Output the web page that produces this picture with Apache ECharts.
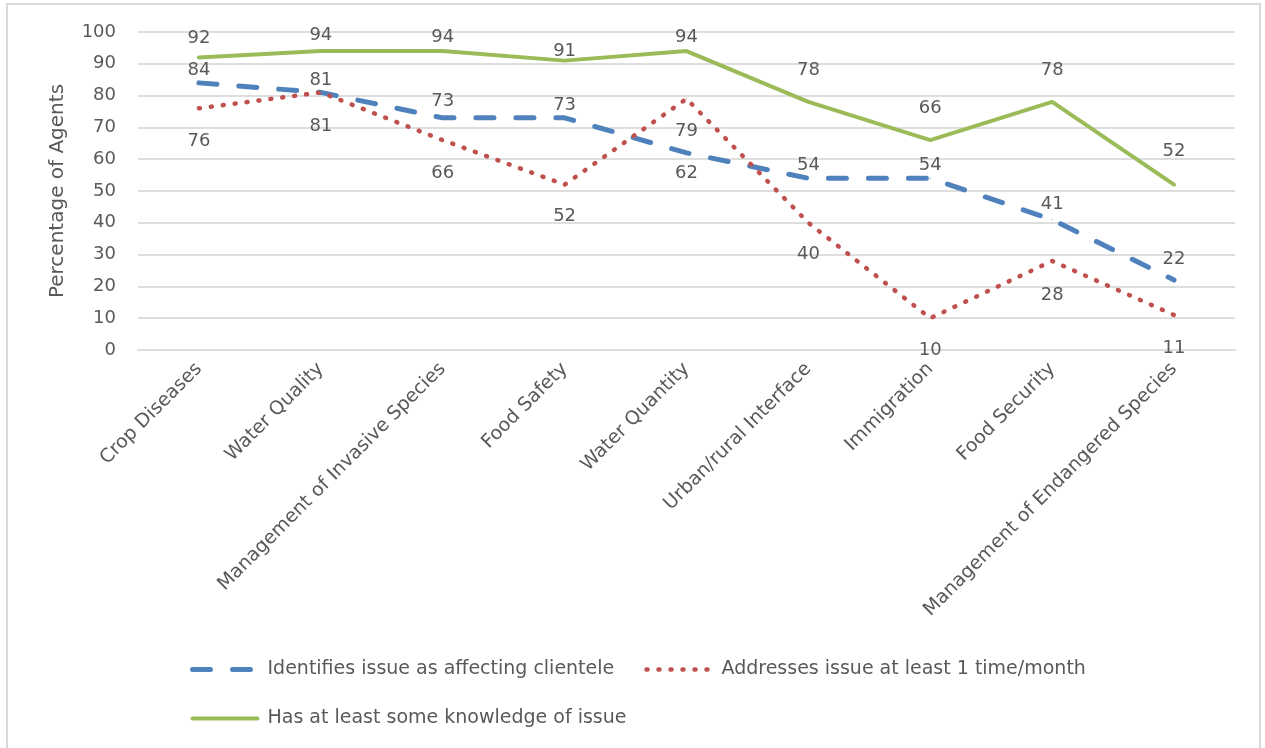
<!DOCTYPE html>
<html>
<head>
<meta charset="utf-8">
<title>Agent issue awareness</title>
<script src="https://cdn.jsdelivr.net/npm/echarts@6/dist/echarts.min.js"></script>
<style>
  html, body { margin: 0; padding: 0; background: #ffffff; }
  #chart { width: 1265px; height: 748px; }
</style>
</head>
<body>
<div id="chart"></div>
<script>
// Issues surveyed, in display order
const categories = [
  'Crop Diseases', 'Water Quality', 'Management of Invasive Species', 'Food Safety',
  'Water Quantity', 'Urban/rural Interface', 'Immigration', 'Food Security',
  'Management of Endangered Species'
];

// Percentage of agents for each measure
const identifiesIssue = [84, 81, 73, 73, 62, 54, 54, 41, 22];
const addressesMonthly = [76, 81, 66, 52, 79, 40, 10, 28, 11];
const hasKnowledge = [92, 94, 94, 91, 94, 78, 66, 78, 52];

// Y axis ticks
const yMin = 0, yMax = 100, yStep = 10;

// Vertical shift (px) of each value label from its point; negative is upward
const identifiesLabelShift = [-13, -12, -17, -13, 20, -13, -13, -15, -21];
const addressesLabelShift = [33, 34, 33, 32, 33, 32, 32, 34, 33];
const knowledgeLabelShift = [-19, -16, -14, -9, -14, -32, -32, -32, -33];

const TEXT = '#595959';
const FONT = 'DejaVu Sans';

const BLUE = { color: '#4f81bd', width: 5, type: [18, 22] };
const RED = { color: '#c0504d', width: 4.5, type: [1, 11] };
const GREEN = { color: '#9bbb59', width: 4, type: 'solid' };

const NAMES = [
  'Identifies issue as affecting clientele',
  'Addresses issue at least 1 time/month',
  'Has at least some knowledge of issue'
];

function withLabels(values, shifts) {
  return values.map((v, i) => ({ value: v, label: { offset: [0, shifts[i]] } }));
}

function lineSeries(name, values, shifts, style) {
  return {
    name: name,
    type: 'line',
    data: withLabels(values, shifts),
    symbol: 'circle',
    symbolSize: 1,
    itemStyle: { color: style.color },
    lineStyle: { color: style.color, width: style.width, type: style.type, cap: 'round', join: 'round' },
    label: {
      show: true,
      position: 'inside',
      color: TEXT,
      fontFamily: FONT,
      fontSize: 18
    },
    emphasis: { disabled: true },
    animation: false
  };
}

function legendItem(name, style) {
  return {
    name: name,
    lineStyle: { color: style.color, width: style.width, type: style.type, cap: 'round' }
  };
}

const chart = echarts.init(document.getElementById('chart'), null, { renderer: 'canvas' });

chart.setOption({
  backgroundColor: '#ffffff',
  textStyle: { fontFamily: FONT, color: TEXT },
  graphic: [{
    type: 'rect',
    shape: { x: 7, y: 4, width: 1253, height: 760 },
    style: { fill: 'none', stroke: '#d9d9d9', lineWidth: 2 },
    silent: true,
    z: -10
  }],
  grid: { left: 138, right: 30, top: 32, bottom: 398, containLabel: false },
  legend: {
    left: 185,
    top: 655,
    width: 960,
    itemWidth: 65,
    itemHeight: 14,
    itemGap: 30,
    textStyle: { color: TEXT, fontFamily: FONT, fontSize: 19, padding: [0, 0, 0, 5] },
    itemStyle: { color: 'transparent', borderWidth: 0 },
    selectedMode: false,
    data: [legendItem(NAMES[0], BLUE), legendItem(NAMES[1], RED), legendItem(NAMES[2], GREEN)]
  },
  xAxis: {
    type: 'category',
    data: categories,
    boundaryGap: true,
    axisTick: { show: false },
    axisLine: { show: true, lineStyle: { color: '#dedede', width: 2 } },
    axisLabel: { interval: 0, rotate: 45, margin: 16, color: TEXT, fontFamily: FONT, fontSize: 19 }
  },
  yAxis: {
    type: 'value',
    min: yMin,
    max: yMax,
    interval: yStep,
    name: 'Percentage of Agents',
    nameLocation: 'middle',
    nameGap: 70,
    nameTextStyle: { color: TEXT, fontFamily: FONT, fontSize: 20 },
    axisLine: { show: false },
    axisTick: { show: false },
    axisLabel: { color: TEXT, fontFamily: FONT, fontSize: 18, margin: 22 },
    splitLine: { lineStyle: { color: '#dedede', width: 2 } }
  },
  series: [
    lineSeries(NAMES[0], identifiesIssue, identifiesLabelShift, BLUE),
    lineSeries(NAMES[1], addressesMonthly, addressesLabelShift, RED),
    lineSeries(NAMES[2], hasKnowledge, knowledgeLabelShift, GREEN)
  ]
});
</script>
</body>
</html>
